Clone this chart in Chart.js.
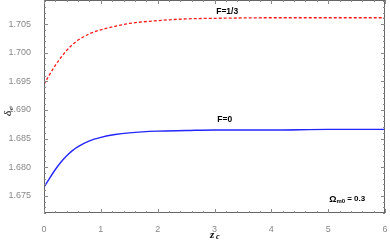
<!DOCTYPE html>
<html>
<head>
<meta charset="utf-8">
<script src="https://cdn.jsdelivr.net/npm/chart.js@4.4.0/dist/chart.umd.min.js"></script>
<style>
  html, body { margin: 0; padding: 0; background: #fff; }
  #wrap { width: 390px; height: 244px; position: relative; }
</style>
</head>
<body>
<div id="wrap"><canvas id="c" width="390" height="244"></canvas></div>
<script>
// 读出来的数据 (z_c, delta_c)
const zValues = [0, 0.1, 0.2, 0.3, 0.4, 0.5, 0.6, 0.8, 1.0, 1.25, 1.5, 2, 2.5, 3, 4, 5, 6]
const deltaF13 = [1.6945, 1.6962, 1.6978, 1.6992, 1.7004, 1.7014, 1.7022, 1.7033, 1.7040, 1.7046, 1.7051, 1.7056, 1.7059, 1.7060, 1.7061, 1.7061, 1.7061]
const deltaF0 = [1.6765, 1.6781, 1.6796, 1.6809, 1.6820, 1.6829, 1.6836, 1.6846, 1.6852, 1.6857, 1.6860, 1.6863, 1.6864, 1.6865, 1.6865, 1.6866, 1.6866]
const xTicks = [0, 1, 2, 3, 4, 5, 6]
const yTicks = [1.675, 1.680, 1.685, 1.690, 1.695, 1.700, 1.705]

const tickFont = { family: 'Liberation Sans, Arial, sans-serif', size: 9 }

// 框线 + 向内刻度 + 文字标注
const framePlugin = {
  id: 'frame',
  afterDraw(chart) {
    const { ctx, chartArea: a, scales } = chart
    const xs = scales.x, ys = scales.y
    ctx.save()
    ctx.strokeStyle = '#666'
    ctx.lineWidth = 1
    ctx.strokeRect(a.left + 0.5, a.top + 0.5, a.right - a.left - 1, a.bottom - a.top - 1)
    ctx.strokeStyle = '#888'
    ctx.beginPath()
    for (let i = 0; i <= 30; i++) {
      const v = i * 0.2
      const px = Math.round(xs.getPixelForValue(v)) + 0.5
      const len = i % 5 === 0 ? 4 : 2
      ctx.moveTo(px, a.bottom); ctx.lineTo(px, a.bottom - len)
      ctx.moveTo(px, a.top); ctx.lineTo(px, a.top + len)
    }
    for (let i = 0; i <= 40; i++) {
      const v = 1.672 + i * 0.001
      if (v > ys.max) break
      const py = Math.round(ys.getPixelForValue(v)) + 0.5
      const major = Math.abs(Math.round(v * 1000) % 5) === 0
      const len = major ? 4 : 2
      ctx.moveTo(a.left, py); ctx.lineTo(a.left + len, py)
      ctx.moveTo(a.right, py); ctx.lineTo(a.right - len, py)
    }
    ctx.stroke()

    // 曲线标注
    ctx.fillStyle = '#000'
    ctx.font = 'bold 8.5px Liberation Sans, Arial, sans-serif'
    ctx.textAlign = 'left'
    ctx.textBaseline = 'middle'
    ctx.fillText('F=1/3', xs.getPixelForValue(3.03), ys.getPixelForValue(1.7071))
    ctx.fillText('F=0', xs.getPixelForValue(3.05), ys.getPixelForValue(1.6883))

    // Omega_m0 = 0.3
    let x = xs.getPixelForValue(5.02), y = ys.getPixelForValue(1.6744)
    ctx.font = 'bold 9px Liberation Sans, Arial, sans-serif'
    ctx.fillText('Ω', x, y)
    x += ctx.measureText('Ω').width
    ctx.font = 'bold 6px Liberation Sans, Arial, sans-serif'
    ctx.fillText('m0', x, y + 2)
    x += ctx.measureText('m0').width + 2
    ctx.font = 'bold 8px Liberation Sans, Arial, sans-serif'
    ctx.fillText('= 0.3', x, y)

    // 轴标题
    ctx.font = 'bold italic 11px Liberation Serif, serif'
    x = 210; y = 235
    ctx.fillText('z', x, y)
    ctx.font = 'bold italic 8px Liberation Serif, serif'
    ctx.fillText('c', x + 6, y + 2)

    ctx.save()
    ctx.translate(8, 112)
    ctx.rotate(-Math.PI / 2)
    ctx.font = 'italic 11px Liberation Serif, serif'
    ctx.fillText('δ', -4, 0)
    ctx.font = 'italic 7px Liberation Serif, serif'
    ctx.fillText('c', 2, 3)
    ctx.restore()
    ctx.restore()
  },
}

new Chart(document.getElementById('c').getContext('2d'), {
  type: 'line',
  data: {
    datasets: [
      {
        label: 'F=1/3',
        data: zValues.map((z, i) => ({ x: z, y: deltaF13[i] })),
        borderColor: '#ff1a1a',
        borderWidth: 1.3,
        borderDash: [3, 2],
        pointRadius: 0,
        cubicInterpolationMode: 'monotone',
        fill: false,
      },
      {
        label: 'F=0',
        data: zValues.map((z, i) => ({ x: z, y: deltaF0[i] })),
        borderColor: '#2424ff',
        borderWidth: 1.4,
        pointRadius: 0,
        cubicInterpolationMode: 'monotone',
        fill: false,
      },
    ],
  },
  options: {
    responsive: false,
    animation: false,
    layout: { padding: { top: 0, right: 5, left: 0, bottom: 0 } },
    plugins: { legend: { display: false }, tooltip: { enabled: false } },
    scales: {
      x: {
        type: 'linear',
        min: 0,
        max: 6,
        grid: { display: false },
        border: { display: false },
        afterBuildTicks: scale => { scale.ticks = xTicks.map(v => ({ value: v })) },
        afterFit: scale => {
          scale.height = 31
          scale.paddingLeft = 0
          scale.paddingRight = 0
        },
        ticks: { color: '#888', font: tickFont, padding: 3, maxRotation: 0 },
      },
      y: {
        min: 1.672,
        max: 1.7092,
        grid: { display: false },
        border: { display: false },
        afterBuildTicks: scale => { scale.ticks = yTicks.map(v => ({ value: v })) },
        afterFit: scale => {
          scale.width = 44
          scale.paddingTop = 0
          scale.paddingBottom = 0
        },
        ticks: { color: '#888', font: tickFont, padding: 5, callback: v => v.toFixed(3) },
      },
    },
  },
  plugins: [framePlugin],
})
</script>
</body>
</html>
